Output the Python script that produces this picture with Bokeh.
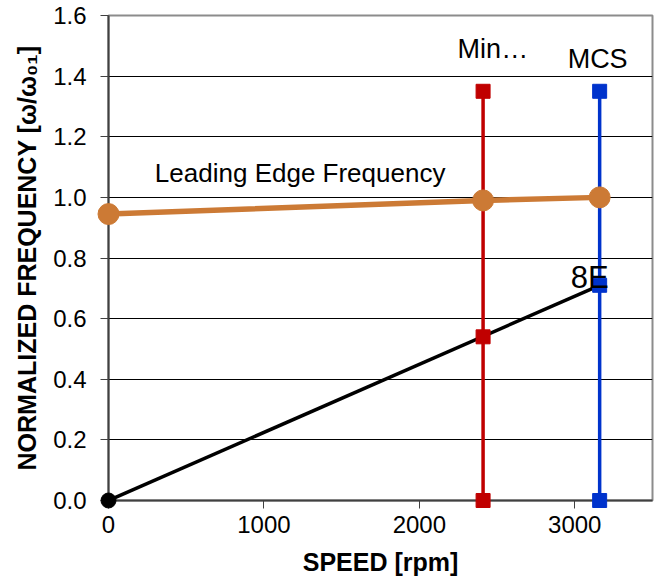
from bokeh.plotting import figure
from bokeh.models import Range1d, FixedTicker, ColumnDataSource, CustomJSTickFormatter
from bokeh.core.properties import value
from bokeh.embed import file_html
from bokeh.resources import INLINE

# Data
le_speed = [0, 2410, 3160]
le_freq = [0.945, 0.99, 1.0]

e8_speed = [0, 3160]
e8_freq = [0.0, 0.71]

min_speed = [2410, 2410, 2410]
min_freq = [0.0, 0.54, 1.35]

mcs_speed = [3160, 3160, 3160]
mcs_freq = [0.0, 0.71, 1.35]

x_ticks = [0, 1000, 2000, 3000]
y_ticks = [0.0, 0.2, 0.4, 0.6, 0.8, 1.0, 1.2, 1.4, 1.6]

label_text = ["Leading Edge Frequency", "Min…", "MCS", "8E"]
label_x = [1233, 2473, 3147, 3096]
label_y = [1.082, 1.49, 1.458, 0.736]
label_size = ["26px", "27px", "27px", "31px"]

FONT = "Liberation Sans"

p = figure(width=656, height=586, output_backend="svg", toolbar_location=None,
           x_range=Range1d(0, 3500), y_range=Range1d(0, 1.6),
           min_border_left=108, min_border_right=4, min_border_top=15, min_border_bottom=86)
p.outline_line_color = "#8c8c8c"
p.outline_line_width = 2

# grid
p.xgrid.grid_line_color = None
p.ygrid.ticker = FixedTicker(ticks=y_ticks)
p.ygrid.grid_line_color = "#000000"
p.ygrid.grid_line_width = 1

# axes
p.xaxis.ticker = FixedTicker(ticks=x_ticks)
p.yaxis.ticker = FixedTicker(ticks=y_ticks)
p.yaxis.formatter = CustomJSTickFormatter(code="return tick.toFixed(1);")
for ax in (p.xaxis[0], p.yaxis[0]):
    ax.major_label_text_font = FONT
    ax.major_label_text_font_size = "24px"
    ax.major_label_text_color = "#000000"
    ax.axis_label_text_font = FONT
    ax.axis_label_text_font_size = "25px"
    ax.axis_label_text_font_style = "bold"
    ax.axis_label_text_color = "#000000"
    ax.minor_tick_line_color = None
    ax.major_tick_in = 0
    ax.major_tick_out = 8
    ax.major_tick_line_color = "#404040"
    ax.axis_line_color = "#404040"
    ax.axis_line_width = 2
p.xaxis.axis_label = "SPEED [rpm]"
p.yaxis.axis_label = "NORMALIZED FREQUENCY [ω/ω₀₁]"
p.xaxis.major_label_standoff = 7
p.yaxis.major_label_standoff = 14
p.xaxis.axis_label_standoff = 12
p.yaxis.axis_label_standoff = 9

# Min speed line (red)
p.line(min_speed, min_freq, line_color="#C00000", line_width=3.5)
# MCS line (blue)
p.line(mcs_speed, mcs_freq, line_color="#0033CC", line_width=3.5)
# 8E line (black)
p.line(e8_speed, e8_freq, line_color="#000000", line_width=3.5)
# Leading edge (orange)
p.line(le_speed, le_freq, line_color="#CC7A35", line_width=5.5)

p.scatter(min_speed, min_freq, marker="square", size=14, fill_color="#C00000",
          line_color="#C00000", level="overlay")
p.scatter(mcs_speed, mcs_freq, marker="square", size=14, fill_color="#0033CC",
          line_color="#0033CC", level="overlay")
p.scatter(e8_speed[:1], e8_freq[:1], marker="circle", size=15, fill_color="#000000",
          line_color="#000000", level="overlay")
p.scatter(le_speed, le_freq, marker="circle", size=21, fill_color="#CC7A35",
          line_color="#CC7A35", level="overlay")

src = ColumnDataSource(dict(x=label_x, y=label_y, t=label_text, s=label_size))
p.text(x="x", y="y", text="t", source=src, text_font=value(FONT), text_font_size="s",
       text_align="center", text_baseline="middle", text_color="#000000", level="overlay")

open("out.html", "w").write(file_html(p, INLINE))
